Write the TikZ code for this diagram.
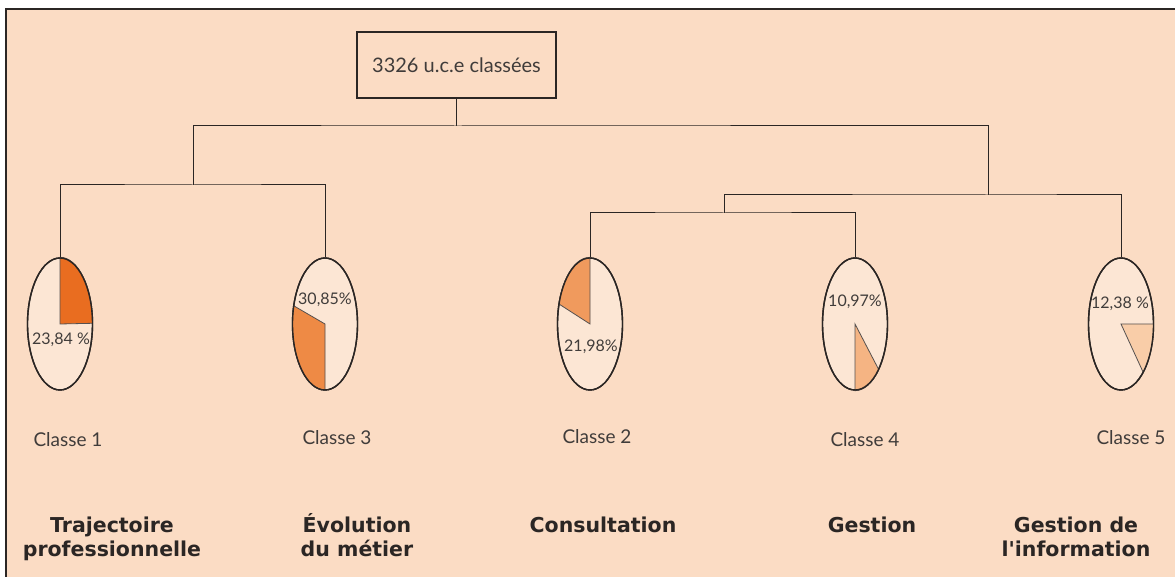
\documentclass[tikz,border=0pt]{standalone}
\usepackage{fontspec}
\setmainfont{Lato}
\newfontfamily\themefont{DejaVu Sans}
\usetikzlibrary{shapes, positioning}

\definecolor{peach}{HTML}{FBDCC4}
\definecolor{inner}{HTML}{FCE6D4}
\definecolor{ink}{HTML}{2B2624}
\definecolor{wone}{HTML}{E96D20}
\definecolor{wthree}{HTML}{EE8A45}
\definecolor{wtwo}{HTML}{F09A5D}
\definecolor{wfour}{HTML}{F5B483}
\definecolor{wfive}{HTML}{F9CDA8}

\begin{document}
\begin{tikzpicture}[x=1pt, y=1pt,
        rootbox/.style={rectangle, draw=ink, line width=2pt, minimum width=199pt, minimum height=66pt, font=\fontsize{20}{24}\selectfont, text=ink!90},
        classe/.style={ellipse, draw=ink, line width=1.4pt, fill=inner, minimum width=65pt, minimum height=132pt, inner sep=0pt},
        wedge/.style={draw=ink!80, line width=0.8pt},
        pct/.style={font=\fontsize{16}{19}\selectfont, text=ink!90, inner sep=0pt},
        tag/.style={font=\fontsize{19}{22}\selectfont, text=ink!90},
        theme/.style={font=\themefont\fontsize{20.5}{24}\selectfont\bfseries, align=center, text=ink, anchor=base, inner sep=0pt}
    ]
    % Background
    \useasboundingbox (0,0) rectangle (1175,577);
    \fill[peach] (6,0) rectangle (1175,568);
    \draw[ink, line width=1.5pt] (6,0) -- (6,568) -- (1175,568);
    % Root
    \node[rootbox] (root) at (456.5,512) {3326 u.c.e classées};
    % Classes
    \node[classe] (c1) at (60,253) {};
    \node[classe] (c3) at (325,253) {};
    \node[classe] (c2) at (590,253) {};
    \node[classe] (c4) at (855,253) {};
    \node[classe] (c5) at (1121,253) {};
    % Pie slices
    \filldraw[wedge, fill=wone] (c1.center) -- (c1.north) arc[start angle=90, end angle=0, x radius=32.5, y radius=66] -- cycle;
    \filldraw[wedge, fill=wthree] (c3.center) -- +(164:32.5 and 66) arc[start angle=164, end angle=270, x radius=32.5, y radius=66] -- cycle;
    \filldraw[wedge, fill=wtwo] (c2.center) -- (c2.north) arc[start angle=90, end angle=163, x radius=32.5, y radius=66] -- cycle;
    \filldraw[wedge, fill=wfour] (c4.center) -- (c4.south) arc[start angle=270, end angle=317, x radius=32.5, y radius=66] -- cycle;
    \filldraw[wedge, fill=wfive] (c5.center) -- +(-47:32.5 and 66) arc[start angle=-47, end angle=0, x radius=32.5, y radius=66] -- cycle;
    \foreach \c in {c1, c2, c3, c4, c5}
        \draw[ink, line width=1.4pt] (\c) ellipse[x radius=32.5, y radius=66];
    % Percentages
    \node[pct] (p1) at (61,237) {23,84 \%};
    \node[pct] (p3) at (325,277) {30,85\%};
    \node[pct] (p2) at (591,230) {21,98\%};
    \node[pct] (p4) at (855,275) {10,97\%};
    \node[pct] (p5) at (1120,273) {12,38 \%};
    % Tree
    \coordinate (top) at (456.5,451);
    \coordinate (left) at (193,392);
    \coordinate (right) at (988,382);
    \coordinate (mid) at (724,364);
    \draw[ink, line width=1pt] (root.south) -- (top);
    \draw[ink, line width=1pt] (left) |- (top) -| (right);
    \draw[ink, line width=1pt] (c1.north) |- (left) -| (c3.north);
    \draw[ink, line width=1pt] (mid) |- (right) -| (c5.north);
    \draw[ink, line width=1pt] (c2.north) |- (mid) -| (c4.north);
    % Class names
    \node[tag] (t1) at (68,137) {Classe 1};
    \node[tag] (t3) at (337,139) {Classe 3};
    \node[tag] (t2) at (597,140) {Classe 2};
    \node[tag] (t4) at (865,137) {Classe 4};
    \node[tag] (t5) at (1131,139) {Classe 5};
    % Themes
    \node[theme] (h1) at (112,20) {Trajectoire\\professionnelle};
    \node[theme] (h3) at (357,20) {Évolution\\du métier};
    \node[theme] (h2) at (603,44) {Consultation};
    \node[theme] (h4) at (872,44) {Gestion};
    \node[theme] (h5) at (1076,20) {Gestion de\\l'information};
\end{tikzpicture}
\end{document}
